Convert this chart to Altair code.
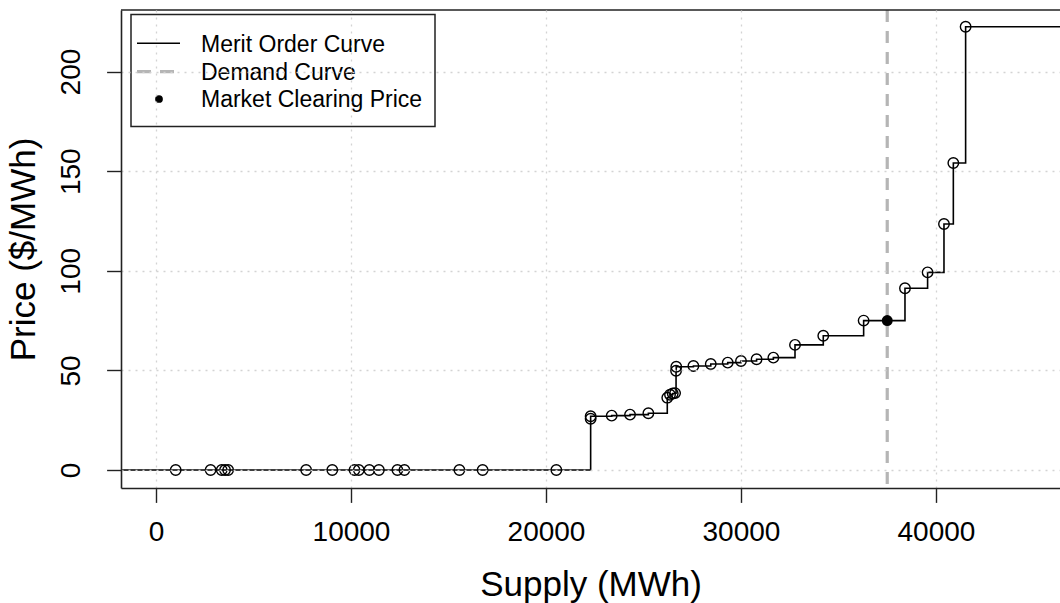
import altair as alt
import pandas as pd

# ---- data ----
supply = [1010, 2800, 3370, 3540, 3700, 7700, 9040, 10180, 10400, 10940,
          11430, 12380, 12740, 15560, 16750, 20530, 22290, 22290, 23370, 24310,
          25250, 26220, 26360, 26500, 26620, 26670, 26680, 27560, 28450, 29320,
          30000, 30800, 31660, 32770, 34220, 36290, 38410, 39570, 40410, 40890,
          41520]
price = [0, 0, 0, 0, 0, 0, 0, 0, 0, 0,
         0, 0, 0, 0, 0, 0, 25.7, 27.0, 27.3, 27.8,
         28.5, 36.3, 37.8, 38.4, 38.6, 49.8, 51.8, 52.2, 53.2, 53.9,
         54.7, 55.6, 56.4, 62.8, 67.4, 75.0, 91.2, 99.2, 123.5, 154.1,
         222.5]
curve_start = [-3000, 0]       # merit curve runs in from the left edge at price 0
curve_end = [48000, 222.5]     # and out past the right edge at the last price
demand = [37500]
clearing_supply = [37500]
clearing_price = [75.0]

x_ticks = [0, 10000, 20000, 30000, 40000]
y_ticks = [0, 50, 100, 150, 200]
legend_labels = ["Merit Order Curve", "Demand Curve", "Market Clearing Price"]

# ---- tables ----
pts = pd.DataFrame({"supply": supply, "price": price, "ord": list(range(1, len(supply) + 1))})
line_df = pd.concat([
    pd.DataFrame({"supply": [curve_start[0]], "price": [curve_start[1]], "ord": [0]}),
    pts,
    pd.DataFrame({"supply": [curve_end[0]], "price": [curve_end[1]], "ord": [len(supply) + 1]}),
])
dem_df = pd.DataFrame({"supply": demand})
mcp_df = pd.DataFrame({"supply": clearing_supply, "price": clearing_price})
one = pd.DataFrame({"k": [0]})

W, H = 939, 478
FONT = "Liberation Sans"
FS_LEG = 23
FS_TICK = 28
FS_TITLE = 35

xs = alt.Scale(domain=[-1795, 46360], nice=False, zero=False)
ys = alt.Scale(domain=[-9.04, 230.9], nice=False, zero=False)

x_axis = alt.Axis(values=x_ticks, format="d", title="Supply (MWh)", tickSize=14.4,
                  labelPadding=16.5, titlePadding=21, zindex=1, grid=True)
y_axis = alt.Axis(values=y_ticks, format="d", title="Price ($/MWh)", tickSize=14.4,
                  labelAngle=270, labelAlign="center", labelBaseline="bottom",
                  labelPadding=21, titlePadding=16, zindex=1, grid=True)

X = alt.X("supply:Q", scale=xs, axis=x_axis)
Y = alt.Y("price:Q", scale=ys, axis=y_axis)

step = alt.Chart(line_df).mark_line(interpolate="step-after", color="black",
                                    strokeWidth=1.6, clip=True).encode(
    x=X, y=Y, order="ord:Q")

circles = alt.Chart(pts).mark_point(shape="circle", filled=False, color="black",
                                    size=110, strokeWidth=1.4, opacity=1).encode(x=X, y=Y)

dem = alt.Chart(dem_df).mark_rule(color="#b5b5b5", strokeWidth=3.2,
                                  strokeDash=[12, 9]).encode(x=X)

mcp = alt.Chart(mcp_df).mark_point(shape="circle", filled=True, color="black",
                                   size=120, opacity=1).encode(x=X, y=Y)

top_border = alt.Chart(one).mark_rule(color="#222222", strokeWidth=1.6).encode(
    x=alt.value(0), x2=alt.value(W), y=alt.value(0))

# legend (transparent box, as in the reference)
lg_box = alt.Chart(one).mark_rect(filled=False, stroke="#222222", strokeWidth=1.5).encode(
    x=alt.value(10), x2=alt.value(314), y=alt.value(4.5), y2=alt.value(116.5))
lg_line = alt.Chart(one).mark_rule(color="black", strokeWidth=1.6).encode(
    x=alt.value(16), x2=alt.value(59), y=alt.value(33.3))
lg_dash = alt.Chart(one).mark_rule(color="#b5b5b5", strokeWidth=3.2, strokeDash=[14, 9]).encode(
    x=alt.value(16), x2=alt.value(59), y=alt.value(61.7))
lg_dot = alt.Chart(one).mark_point(shape="circle", filled=True, color="black",
                                   size=60, opacity=1).encode(x=alt.value(38), y=alt.value(89))
lg_texts = [
    alt.Chart(one).mark_text(align="left", baseline="middle", fontSize=FS_LEG, font=FONT,
                             color="black").encode(
        x=alt.value(80), y=alt.value(yy), text=alt.value(t))
    for t, yy in zip(legend_labels, [34.5, 62.5, 90.0])
]

chart = alt.layer(step, circles, dem, mcp, top_border, lg_box, lg_line, lg_dash, lg_dot,
                  *lg_texts).properties(
    width=W, height=H,
    autosize=alt.AutoSizeParams(type="none"),
    padding={"left": 121, "top": 10, "right": 0, "bottom": 115},
    background="white",
).configure_view(stroke=None).configure_axis(
    labelFont=FONT, titleFont=FONT, labelFontSize=FS_TICK, titleFontSize=FS_TITLE,
    titleFontWeight="normal", labelColor="black", titleColor="black",
    domainColor="#222222", domainWidth=1.6, tickColor="#222222", tickWidth=1.4,
    gridColor="#d3d3d3", gridDash=[2, 5], gridWidth=1.3, labelFlush=False,
    labelOverlap=False,
)

chart.save("out.html", embed_options={"renderer": "svg", "actions": False})
